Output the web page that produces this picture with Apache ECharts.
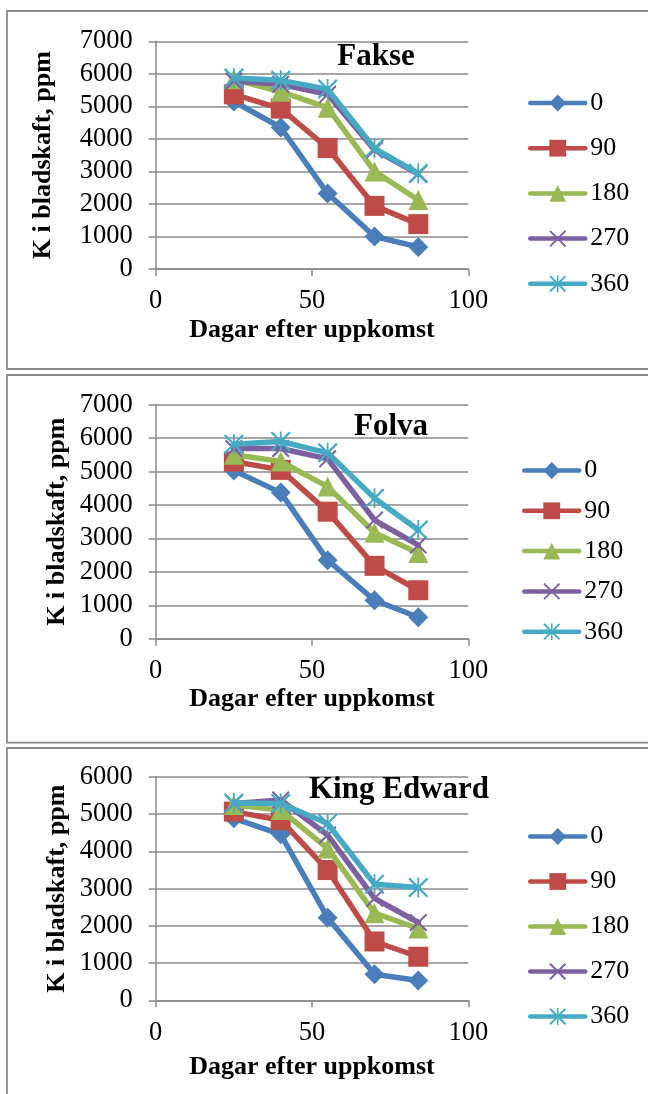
<!DOCTYPE html>
<html><head><meta charset="utf-8">
<script src="https://cdn.jsdelivr.net/npm/echarts@6/dist/echarts.min.js"></script>
<style>html,body{margin:0;padding:0;background:#fff}#c{width:648px;height:1094px}</style>
</head><body><div id="c"></div>
<script>
const days = [25, 40, 55, 70, 84];
const doses = ['0', '90', '180', '270', '360'];
const xTicks = [0, 50, 100];
const panelTitles = ['Fakse', 'Folva', 'King Edward'];

const fakse0   = [5150, 4350, 2320, 1000, 680];
const fakse90  = [5370, 4930, 3720, 1940, 1380];
const fakse180 = [5830, 5450, 4960, 3000, 2120];
const fakse270 = [5780, 5680, 5370, 3660, 2920];
const fakse360 = [5870, 5800, 5530, 3710, 2940];

const folva0   = [5030, 4370, 2350, 1150, 640];
const folva90  = [5300, 5050, 3800, 2180, 1450];
const folva180 = [5500, 5300, 4550, 3170, 2560];
const folva270 = [5690, 5690, 5380, 3550, 2800];
const folva360 = [5820, 5900, 5560, 4200, 3250];

const ke0   = [4890, 4460, 2220, 700, 530];
const ke90  = [5070, 4840, 3500, 1580, 1170];
const ke180 = [5250, 5110, 4080, 2340, 1930];
const ke270 = [5290, 5380, 4440, 2740, 2090];
const ke360 = [5300, 5290, 4750, 3120, 3030];

const yMax = [7000, 7000, 6000];
const panels = [
  [fakse0, fakse90, fakse180, fakse270, fakse360],
  [folva0, folva90, folva180, folva270, folva360],
  [ke0, ke90, ke180, ke270, ke360]
];

const FONT = '"Liberation Serif", "Times New Roman", serif';
const colors = ['#4A7EBB', '#BE4B48', '#98B954', '#7D60A0', '#46AAC5'];
const X_PATH = 'path://M0,1.6L1.6,0L20,18.4L18.4,20Z M18.4,0L20,1.6L1.6,20L0,18.4Z';
const STAR_PATH = 'path://M0,1.6L1.6,0L20,18.4L18.4,20Z M18.4,0L20,1.6L1.6,20L0,18.4Z M9.1,0L10.9,0L10.9,20L9.1,20Z';
const symbols = ['diamond', 'rect', 'triangle', X_PATH, STAR_PATH];
const symSizes = [20, 20, 20, 18, 20];

const layout = [
  {top: 41.3, bottom: 269, yNameGap: 99, xNameGap: 48, titleX: 376, titleY: 57, legLeft: 528, legTop: 90, legGap: 19.2},
  {top: 404.7, bottom: 638.7, yNameGap: 85, xNameGap: 48, titleX: 391, titleY: 427, legLeft: 522, legTop: 457.5, legGap: 14.3},
  {top: 777, bottom: 1000.3, yNameGap: 85, xNameGap: 54, titleX: 399, titleY: 790, legLeft: 528, legTop: 823.5, legGap: 19}
];
const frames = [[7, 11, 369], [7, 375, 742.7], [7, 748, 1110]];

const grid = [], xAxis = [], yAxis = [], series = [], legend = [], graphics = [];
const axisColor = '#8a8a8a';
layout.forEach((L, p) => {
  grid.push({left: 155.7, right: 179.7, top: L.top, height: L.bottom - L.top});
  xAxis.push({
    type: 'value', gridIndex: p, min: xTicks[0], max: xTicks[xTicks.length - 1], interval: xTicks[1] - xTicks[0],
    name: 'Dagar efter uppkomst', nameLocation: 'middle', nameGap: L.xNameGap,
    nameTextStyle: {fontFamily: FONT, fontSize: 26, fontWeight: 'bold', color: '#000'},
    axisLine: {show: true, onZero: false, lineStyle: {color: axisColor, width: 1.5}},
    axisTick: {show: true, length: 7, lineStyle: {color: axisColor, width: 1.5}},
    axisLabel: {fontFamily: FONT, fontSize: 26.5, color: '#000', margin: 19, formatter: v => String(v)},
    splitLine: {show: false}
  });
  yAxis.push({
    type: 'value', gridIndex: p, min: 0, max: yMax[p], interval: 1000,
    name: 'K i bladskaft, ppm', nameLocation: 'middle', nameGap: L.yNameGap, nameRotate: 90,
    nameTextStyle: {fontFamily: FONT, fontSize: 26, fontWeight: 'bold', color: '#000'},
    axisLine: {show: true, onZero: false, lineStyle: {color: axisColor, width: 1.5}},
    axisTick: {show: true, length: 7, lineStyle: {color: axisColor, width: 1.5}},
    axisLabel: {fontFamily: FONT, fontSize: 26.5, color: '#000', margin: 23, formatter: v => String(v)},
    splitLine: {show: true, lineStyle: {color: axisColor, width: 1.5}}
  });
  panels[p].forEach((vals, s) => {
    series.push({
      type: 'line', name: doses[s], xAxisIndex: p, yAxisIndex: p,
      data: days.map((d, i) => [d, vals[i]]),
      symbol: symbols[s], symbolSize: symSizes[s], showAllSymbol: true,
      lineStyle: {color: colors[s], width: 5.5, cap: 'round', join: 'round'},
      itemStyle: {color: colors[s], borderWidth: 0},
      emphasis: {disabled: true}, animation: false, z: 2 + s
    });
  });
  legend.push({
    orient: 'vertical', left: L.legLeft, top: L.legTop, padding: 0,
    itemWidth: 55, itemHeight: 21, itemGap: L.legGap,
    data: doses.slice(),
    lineStyle: {width: 4.5, cap: 'round'},
    textStyle: {fontFamily: FONT, fontSize: 26, color: '#000', padding: [0, 0, 0, 0]},
    selectedMode: false
  });
  graphics.push({
    type: 'text', x: L.titleX, y: L.titleY, z: 100,
    style: {text: panelTitles[p], font: 'bold 31px ' + FONT, fill: '#000', align: 'center', verticalAlign: 'middle'}
  });
});
frames.forEach(f => {
  graphics.push({
    type: 'rect', z: -1, silent: true,
    shape: {x: f[0], y: f[1], width: 700, height: f[2] - f[1]},
    style: {fill: null, stroke: '#8a8a8a', lineWidth: 1.8}
  });
});

const chart = echarts.init(document.getElementById('c'), null, {renderer: 'canvas'});
chart.setOption({
  animation: false,
  backgroundColor: '#fff',
  grid, xAxis, yAxis, series, legend,
  graphic: graphics
});
</script></body></html>
